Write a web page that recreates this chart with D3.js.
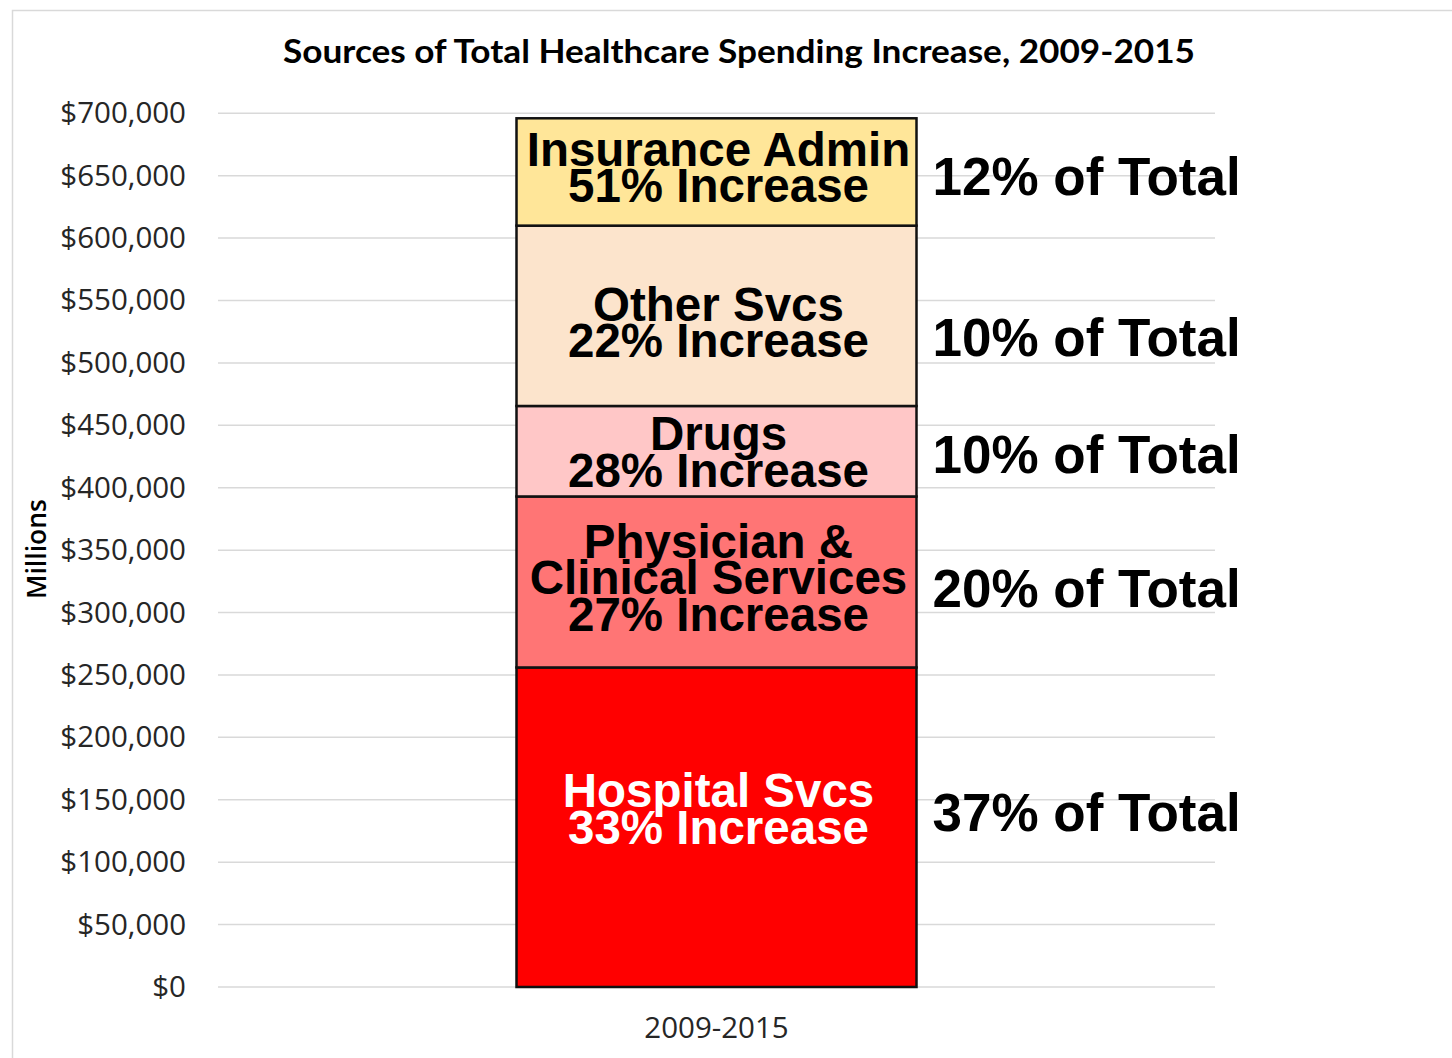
<!DOCTYPE html>
<html>
<head>
<meta charset="utf-8">
<script src="https://cdn.jsdelivr.net/npm/d3@7"></script>
<style>
  html, body { margin: 0; padding: 0; background: #ffffff; }
  svg { display: block; }
</style>
</head>
<body>
<svg id="chart" width="1452" height="1058"></svg>
<script>
// ---- data ----
const category = "2009-2015";
const segments = ["Hospital Svcs", "Physician & Clinical Services", "Drugs", "Other Svcs", "Insurance Admin"];
const values = [256000, 137000, 72500, 144500, 86000];
const labelLines = [
  ["Hospital Svcs", "33% Increase"],
  ["Physician &", "Clinical Services", "27% Increase"],
  ["Drugs", "28% Increase"],
  ["Other Svcs", "22% Increase"],
  ["Insurance Admin", "51% Increase"]
];
const shareLabels = ["37% of Total", "20% of Total", "10% of Total", "10% of Total", "12% of Total"];
const colors = ["#FF0000", "#FF7575", "#FFC7C7", "#FCE4CC", "#FFE699"];
const textColors = ["#ffffff", "#000000", "#000000", "#000000", "#000000"];
const yTicks = [0, 50000, 100000, 150000, 200000, 250000, 300000, 350000, 400000, 450000, 500000, 550000, 600000, 650000, 700000];
const title = "Sources of Total Healthcare Spending Increase, 2009-2015";
const yAxisTitle = "Millions";

// ---- layout ----
const svg = d3.select("#chart");
const plot = { left: 218, right: 1215, top: 113.3, bottom: 987 };
const inLabelNudge = [-19, -5, 0, 6, -5];
const shareNudge = [-15, 6, 3, 21, 4];
const axisFont = "'Open Sans', Lato, sans-serif";

// frame
svg.append("rect")
  .attr("x", 12.5).attr("y", 10.5)
  .attr("width", 1500).attr("height", 1100)
  .attr("fill", "none").attr("stroke", "#d9d9d9").attr("stroke-width", 1.5);

const y = d3.scaleLinear().domain([0, 700000]).range([plot.bottom, plot.top]);
const x = d3.scaleBand().domain([category]).range([plot.left, plot.right]).paddingInner(0.6).paddingOuter(0.3);

// gridlines
svg.append("g").selectAll("line").data(yTicks).join("line")
  .attr("x1", plot.left).attr("x2", plot.right)
  .attr("y1", d => y(d)).attr("y2", d => y(d))
  .attr("stroke", "#d9d9d9").attr("stroke-width", 1.5);

// y axis labels
const fmt = d3.format("$,.0f");
const yAxis = d3.axisLeft(y).tickValues(yTicks).tickFormat(d => fmt(d)).tickSize(0).tickPadding(32);
const gy = svg.append("g").attr("transform", `translate(${plot.left},0)`).call(yAxis);
gy.select(".domain").remove();
gy.selectAll("text")
  .attr("font-family", axisFont)
  .attr("font-size", 29.5).attr("fill", "#262626");

// x axis label
const xAxis = d3.axisBottom(x).tickSize(0).tickPadding(30);
const gx = svg.append("g").attr("transform", `translate(0,${plot.bottom})`).call(xAxis);
gx.select(".domain").remove();
gx.selectAll("text")
  .attr("font-family", axisFont)
  .attr("font-size", 29.5).attr("fill", "#262626");

// stacked data
const stackRows = [Object.fromEntries(segments.map((s, i) => [s, values[i]]))];
const series = d3.stack().keys(segments)(stackRows);

const bw = 400;
const bx = x(category) + x.bandwidth() / 2 - bw / 2;

svg.append("g").selectAll("rect").data(series).join("rect")
  .attr("x", bx)
  .attr("width", bw)
  .attr("y", d => y(d[0][1]))
  .attr("height", d => y(d[0][0]) - y(d[0][1]))
  .attr("fill", (d, i) => colors[i])
  .attr("stroke", "#111").attr("stroke-width", 2.5);

// in-bar labels
const lineH = 36.5;
const inG = svg.append("g")
  .attr("font-family", "'Liberation Sans', Arial, sans-serif")
  .attr("font-weight", "bold").attr("font-size", 47.5).attr("text-anchor", "middle");
series.forEach((s, i) => {
  const mid = (y(s[0][0]) + y(s[0][1])) / 2 + inLabelNudge[i];
  const lines = labelLines[i];
  const t = inG.append("text").attr("fill", textColors[i]);
  lines.forEach((ln, j) => {
    t.append("tspan")
      .attr("x", bx + bw / 2 + 2)
      .attr("y", mid + (j - (lines.length - 1) / 2) * lineH)
      .attr("dy", "0.36em")
      .text(ln);
  });
});

// share labels
svg.append("g").selectAll("text").data(series).join("text")
  .attr("x", bx + bw + 16)
  .attr("y", (d, i) => (y(d[0][0]) + y(d[0][1])) / 2 + shareNudge[i])
  .attr("dy", "0.36em")
  .attr("font-family", "'Liberation Sans', Arial, sans-serif")
  .attr("font-weight", "bold").attr("font-size", 53)
  .attr("fill", "#000")
  .text((d, i) => shareLabels[i]);

// title
svg.append("text")
  .attr("x", 739).attr("y", 63)
  .attr("text-anchor", "middle")
  .attr("textLength", 912).attr("lengthAdjust", "spacingAndGlyphs")
  .attr("font-family", "Lato, 'Open Sans', sans-serif")
  .attr("font-weight", "bold").attr("font-size", 32).attr("fill", "#000")
  .text(title);

// y axis title
svg.append("text")
  .attr("transform", "translate(37,549) rotate(-90)")
  .attr("text-anchor", "middle").attr("dy", "0.35em")
  .attr("font-family", axisFont)
  .attr("font-weight", "600").attr("font-size", 26.5).attr("fill", "#000")
  .text(yAxisTitle);
</script>
</body>
</html>
